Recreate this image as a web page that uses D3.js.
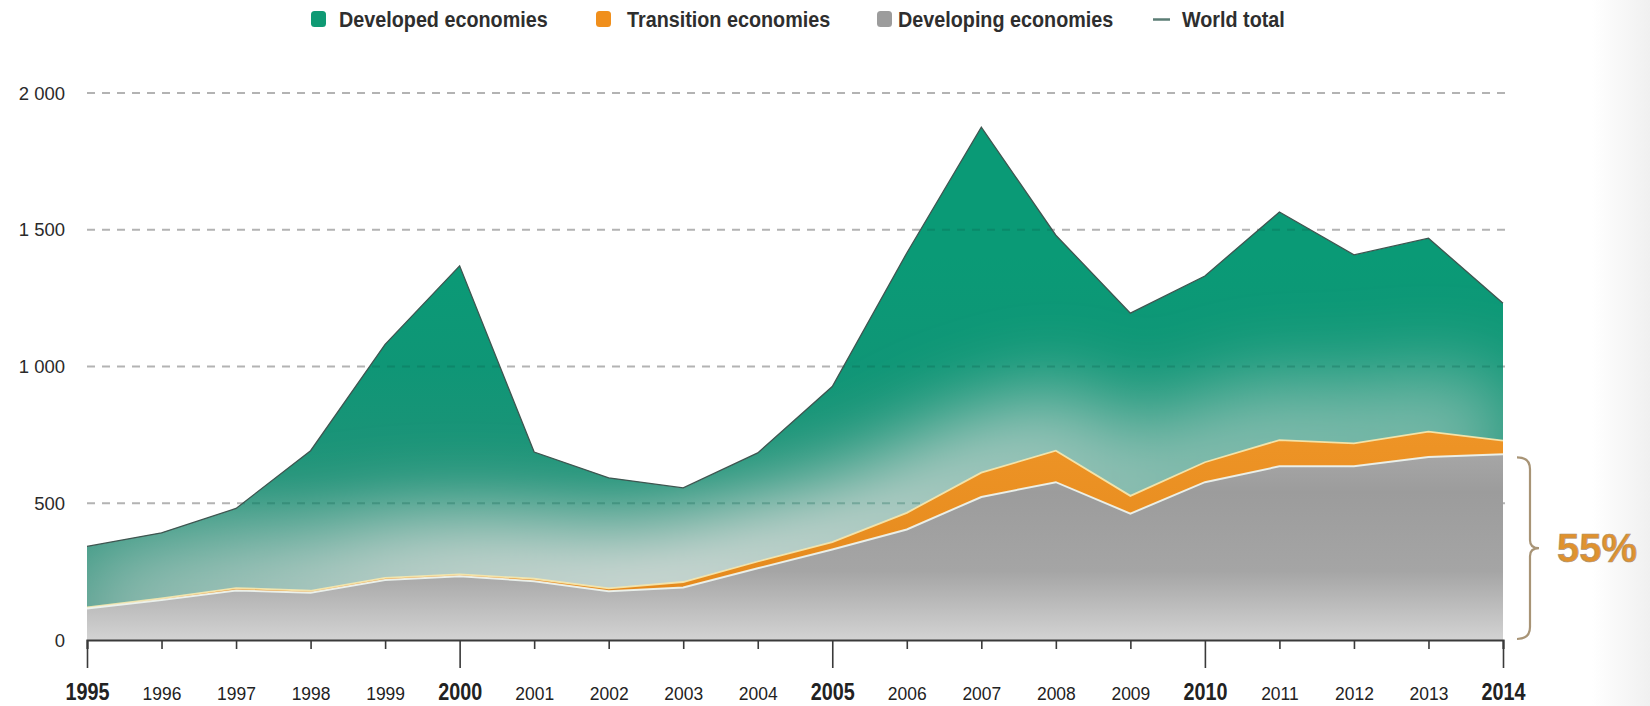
<!DOCTYPE html>
<html>
<head>
<meta charset="utf-8">
<script src="https://cdn.jsdelivr.net/npm/d3@7"></script>
<style>
  html, body { margin: 0; padding: 0; background: #fff; }
  svg { display: block; }
</style>
</head>
<body>
<svg id="chart" width="1650" height="706"></svg>
<script>
// ---------------- DATA ----------------
const years = [1995,1996,1997,1998,1999,2000,2001,2002,2003,2004,2005,2006,2007,2008,2009,2010,2011,2012,2013,2014];
const developing = [115,146,181,173,219,233,215,178,192,262,331,404,523,577,462,577,635,635,669,679];
const transition = [4,6,9,7,8,7,9,11,20,25,27,61,89,115,65,73,96,84,93,50];
const developed = [223,240,291,512,854,1128,463,404,344,397,569,950,1263,788,668,681,834,689,707,502];
const worldTotal = [342,392,481,692,1081,1368,687,593,556,684,927,1415,1875,1480,1195,1331,1565,1408,1469,1231];
const majorYears = [1995,2000,2005,2010,2014];
const yTicks = [0,500,1000,1500,2000];
const yTickLabels = ["0","500","1 000","1 500","2 000"];
const legendLabels = ["Developed economies","Transition economies","Developing economies","World total"];
const shareLabel = "55%";

// ---------------- SETUP ----------------
const svg = d3.select("#chart");
const defs = svg.append("defs");
const x = d3.scaleLinear().domain([1995, 2014]).range([87, 1503]);
const y = d3.scaleLinear().domain([0, 2000]).range([640, 93]);

const rows = years.map((yr, i) => ({year: yr, developing: developing[i], transition: transition[i], developed: developed[i], world: worldTotal[i]}));
const stack = d3.stack().keys(["developing","transition","developed"]);
const series = stack(rows);

const area = d3.area().x(d => x(d.data.year)).y0(d => y(d[0])).y1(d => y(d[1]));
const topLine = d3.line().x(d => x(d.data.year)).y(d => y(d[1]));

// right-edge soft shadow
const sh = defs.append("linearGradient").attr("id","edgeShade").attr("x1",0).attr("x2",1).attr("y1",0).attr("y2",0);
sh.append("stop").attr("offset",0).attr("stop-color","#ffffff");
sh.append("stop").attr("offset",1).attr("stop-color","#f0f0f0");
svg.append("rect").attr("x",1592).attr("y",0).attr("width",58).attr("height",706).attr("fill","url(#edgeShade)");

// gradients
const gGreen = defs.append("linearGradient").attr("id","gGreen").attr("gradientUnits","userSpaceOnUse")
  .attr("x1",0).attr("x2",0).attr("y1",y(1400)).attr("y2",y(150));
[[0,"#0a9a76"],[0.32,"#0f9676"],[0.64,"#1f9378"],[1,"#4c9b89"]].forEach(s => gGreen.append("stop").attr("offset",s[0]).attr("stop-color",s[1]));

const gGlow = defs.append("linearGradient").attr("id","gGlow").attr("gradientUnits","userSpaceOnUse")
  .attr("x1",x(1995)).attr("x2",x(2014)).attr("y1",0).attr("y2",0);
[[0,0.42],[0.22,0.85],[0.4,1.0],[0.55,0.85],[0.75,0.6],[1,0.5]].forEach(s =>
  gGlow.append("stop").attr("offset",s[0]).attr("stop-color","#d5dbd8").attr("stop-opacity",s[1]));

const gGray = defs.append("linearGradient").attr("id","gGray").attr("gradientUnits","userSpaceOnUse")
  .attr("x1",0).attr("x2",0).attr("y1",y(720)).attr("y2",y(0));
[[0,"#a9a9a9"],[0.25,"#9c9c9c"],[0.65,"#a5a5a5"],[1,"#d3d3d3"]].forEach(s => gGray.append("stop").attr("offset",s[0]).attr("stop-color",s[1]));

const gOrange = defs.append("linearGradient").attr("id","gOrange").attr("x1",0).attr("x2",0).attr("y1",0).attr("y2",1);
gOrange.append("stop").attr("offset",0).attr("stop-color","#ee9426");
gOrange.append("stop").attr("offset",1).attr("stop-color","#e4891c");

defs.append("filter").attr("id","blurGlow").attr("filterUnits","userSpaceOnUse")
  .attr("x",-200).attr("y",-200).attr("width",2100).attr("height",1100)
  .append("feGaussianBlur").attr("stdDeviation",40);

defs.append("clipPath").attr("id","clipGreen").append("path").attr("d", area(series[2]));

// ---------------- GRID (under) ----------------
svg.append("g").selectAll("line").data(yTicks.filter(d => d > 0)).join("line")
  .attr("x1", x(1995)).attr("x2", x(2014) + 2)
  .attr("y1", d => y(d)).attr("y2", d => y(d))
  .attr("stroke", "#b3b3b3").attr("stroke-width", 2.2).attr("stroke-dasharray", "8,7");

// ---------------- AREAS ----------------
svg.append("path").attr("d", area(series[2])).attr("fill", "url(#gGreen)");
// glow over green along lower boundary
const glowG = svg.append("g").attr("clip-path","url(#clipGreen)");
glowG.append("path").attr("d", topLine(series[1])).attr("fill","none")
  .attr("stroke","url(#gGlow)").attr("stroke-width",120).attr("filter","url(#blurGlow)");
// gridlines visible through green
glowG.selectAll("line.gg").data(yTicks.filter(d => d > 0)).join("line").attr("class","gg")
  .attr("x1", x(1995)).attr("x2", x(2014))
  .attr("y1", d => y(d)).attr("y2", d => y(d))
  .attr("stroke", "#0b5e4b").attr("stroke-opacity", 0.28).attr("stroke-width", 2.2).attr("stroke-dasharray", "8,7");

svg.append("path").attr("d", area(series[1])).attr("fill", "url(#gOrange)");
svg.append("path").attr("d", area(series[0])).attr("fill", "url(#gGray)");

// boundary lines
svg.append("path").attr("d", topLine(series[1])).attr("fill","none").attr("stroke","#f6e9b0").attr("stroke-width",1.8).attr("stroke-opacity",0.9);
svg.append("path").attr("d", topLine(series[0])).attr("fill","none").attr("stroke","#eef6f2").attr("stroke-width",2).attr("stroke-opacity",0.9);

// world total line
const worldLine = d3.line().x((d,i) => x(years[i])).y(d => y(d));
svg.append("path").attr("d", worldLine(worldTotal)).attr("fill","none").attr("stroke","#3f5550").attr("stroke-width",1.3);

// ---------------- AXES ----------------
const xAxis = d3.axisBottom(x).tickValues(years).tickFormat(d3.format("d")).tickSizeOuter(0).tickSize(9);
const gx = svg.append("g").attr("transform", `translate(0,${y(0)})`).call(xAxis);
gx.select(".domain").attr("stroke","#3a3a3a").attr("stroke-width",2.2);
gx.selectAll(".tick line").attr("stroke","#3a3a3a").attr("stroke-width",1.6)
  .attr("y2", d => majorYears.includes(d) ? 28 : 9);
gx.selectAll(".tick text")
  .attr("y", 60).attr("dy", 0)
  .attr("transform", d => majorYears.includes(d) ? "scale(0.86,1)" : "scale(0.92,1)")
  .attr("fill", "#222")
  .style("font-family", "'Liberation Sans', Arial, sans-serif")
  .style("font-size", d => majorYears.includes(d) ? "23px" : "19px")
  .style("font-weight", d => majorYears.includes(d) ? "bold" : "normal");

svg.append("g").selectAll("text").data(yTicks).join("text")
  .attr("x", 65).attr("y", d => y(d)).attr("dy", "0.36em")
  .attr("text-anchor", "end")
  .attr("fill", "#2a2a2a")
  .style("font-family", "'Liberation Sans', Arial, sans-serif")
  .style("font-size", "18.5px")
  .text((d,i) => yTickLabels[i]);

// ---------------- LEGEND ----------------
const legendColors = ["#0f9a74","#f08f1c","#9c9c9c"];
const legendX = [311, 596, 877];
const lg = svg.append("g");
legendX.forEach((lx, i) => {
  lg.append("rect").attr("x", lx).attr("y", 11).attr("width", 15).attr("height", 16).attr("rx", 3.5)
    .attr("fill", legendColors[i]);
});
lg.append("line").attr("x1",1153).attr("x2",1170).attr("y1",19.5).attr("y2",19.5).attr("stroke","#5b7d75").attr("stroke-width",2.5);
const legendTextX = [339, 627, 898, 1182];
legendLabels.forEach((t, i) => {
  lg.append("text").attr("x", 0).attr("y", 0)
    .attr("transform", `translate(${legendTextX[i]},26.5) scale(0.92,1)`)
    .attr("fill", "#2e2e2e")
    .style("font-family", "'Liberation Sans', Arial, sans-serif")
    .style("font-size", "21.5px").style("font-weight", "bold")
    .text(t);
});

// ---------------- BRACE + SHARE ----------------
const yTop = y(developing[developing.length - 1]) + 3, yBot = y(0) - 1, yMid = (yTop + yBot) / 2;
const bx0 = 1517, bx1 = 1530, bTip = 1539;
const brace = `M${bx0},${yTop} Q${bx1},${yTop} ${bx1},${yTop+12} L${bx1},${yMid-8} Q${bx1},${yMid} ${bTip},${yMid} Q${bx1},${yMid} ${bx1},${yMid+8} L${bx1},${yBot-12} Q${bx1},${yBot} ${bx0},${yBot}`;
svg.append("path").attr("d", brace).attr("fill","none").attr("stroke","#a89476").attr("stroke-width",2.2);
svg.append("text").attr("x", 1557).attr("y", yMid + 14)
  .attr("fill", "#e0922e").attr("stroke","#b09272").attr("stroke-width",0.7)
  .style("font-family", "'Liberation Sans', Arial, sans-serif")
  .style("font-size", "40px").style("font-weight","bold")
  .text(shareLabel);
</script>
</body>
</html>
